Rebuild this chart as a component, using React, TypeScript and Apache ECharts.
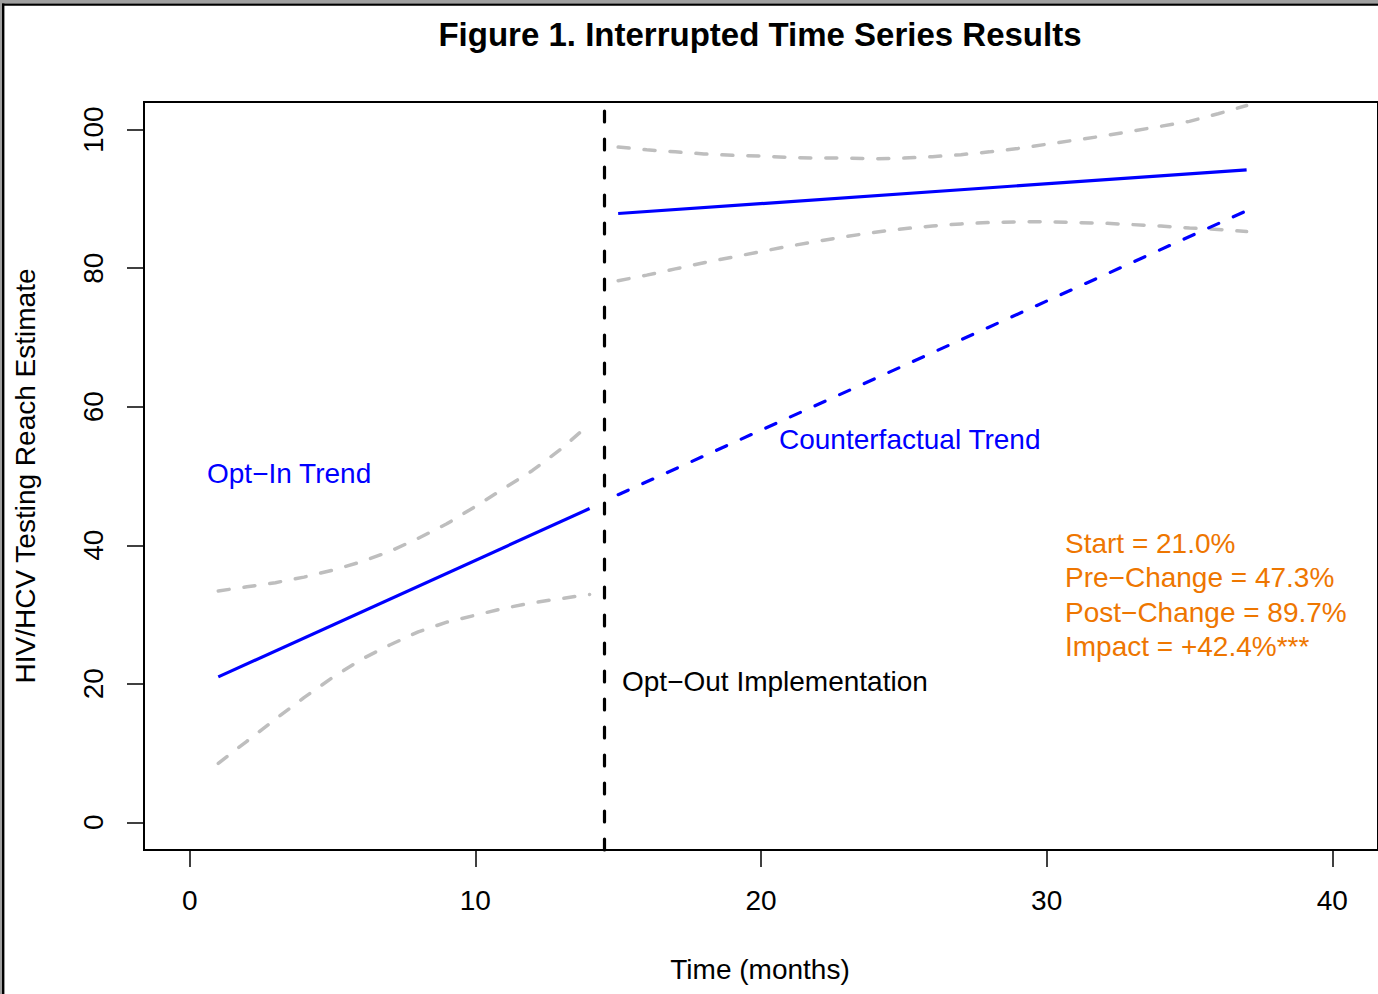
import React, { useEffect, useRef } from "react";
import * as echarts from "echarts";

// ---- data ----
const xTickValues = [0, 10, 20, 30, 40];
const yTickValues = [0, 20, 40, 60, 80, 100];

const preMonths = [1, 2, 3, 4, 5, 6, 7, 8, 9, 10, 11, 12, 13, 14];
const preUpper = [33.4, 34.0, 34.6, 35.4, 36.4, 37.6, 39.1, 41.0, 43.1, 45.6, 48.2, 50.8, 53.9, 57.5];
const preLower = [8.5, 11.7, 14.9, 18.0, 20.9, 23.5, 25.6, 27.5, 28.9, 29.9, 30.9, 31.7, 32.3, 32.9];
const preFitMonths = [1, 14];
const preFit = [21.0, 45.3];

const postMonths = [15, 16, 17, 18, 19, 20, 21, 22, 23, 24, 25, 26, 27, 28, 29, 30, 31, 32, 33, 34, 35, 36, 37];
const postUpper = [97.5, 97.1, 96.8, 96.5, 96.3, 96.2, 96.0, 95.9, 95.9, 95.8, 95.9, 96.1, 96.4, 96.8, 97.3, 97.9, 98.5, 99.1, 99.8, 100.5, 101.2, 102.3, 103.5];
const postLower = [78.2, 79.0, 79.9, 80.8, 81.6, 82.4, 83.2, 83.9, 84.6, 85.2, 85.7, 86.1, 86.4, 86.6, 86.7, 86.7, 86.6, 86.5, 86.3, 86.1, 85.8, 85.6, 85.3];
const postFitMonths = [15, 37];
const postFit = [87.9, 94.2];

const cfMonths = [15, 37];
const counterfactual = [47.3, 88.3];

const interruptionMonth = 14.5;

const titleText = "Figure 1. Interrupted Time Series Results";
const xTitle = "Time (months)";
const yTitle = "HIV/HCV Testing Reach Estimate";
const optInLabel = "Opt\u2212In Trend";
const cfLabel = "Counterfactual Trend";
const optOutLabel = "Opt\u2212Out Implementation";
const statLines = [
  "Start = 21.0%",
  "Pre\u2212Change = 47.3%",
  "Post\u2212Change = 89.7%",
  "Impact = +42.4%***",
];

const FONT = '"Liberation Sans", Arial, Helvetica, sans-serif';
const BLUE = "#0000FF";
const GRAY = "#BEBEBE";
const ORANGE = "#EE7600";

const zip = (xs: number[], ys: number[]) => xs.map((x, i) => [x, ys[i]]);

export default function App() {
  const ref = useRef<HTMLDivElement>(null);

  useEffect(() => {
    if (!ref.current) return;
    const chart = echarts.init(ref.current, undefined, { renderer: "svg" });

    const grayDash = {
      color: GRAY,
      width: 3.5,
      type: [11, 15] as any,
      cap: "round" as const,
    };

    const option: any = {
      animation: false,
      backgroundColor: "#fff",
      grid: {
        left: 144,
        top: 102,
        right: -2,
        bottom: 144,
        show: true,
        borderColor: "#000",
        borderWidth: 2,
        backgroundColor: "transparent",
      },
      xAxis: {
        type: "value",
        min: -1.6,
        max: 41.6,
        axisLine: { show: false, onZero: false },
        splitLine: { show: false },
        axisTick: {
          show: true,
          inside: false,
          length: 17,
          customValues: xTickValues,
          lineStyle: { color: "#000", width: 1.5 },
        },
        axisLabel: {
          customValues: xTickValues,
          margin: 36,
          fontSize: 28,
          fontFamily: FONT,
          color: "#000",
        },
      },
      yAxis: {
        type: "value",
        min: -4,
        max: 104,
        axisLine: { show: false, onZero: false },
        splitLine: { show: false },
        axisTick: {
          show: true,
          inside: false,
          length: 17,
          customValues: yTickValues,
          lineStyle: { color: "#000", width: 1.5 },
        },
        axisLabel: {
          customValues: yTickValues,
          rotate: 90,
          margin: 37,
          fontSize: 28,
          fontFamily: FONT,
          color: "#000",
        },
      },
      series: [
        { type: "line", data: zip(preMonths, preUpper), symbol: "none", lineStyle: grayDash },
        { type: "line", data: zip(preMonths, preLower), symbol: "none", lineStyle: grayDash },
        { type: "line", data: zip(postMonths, postUpper), symbol: "none", lineStyle: grayDash },
        { type: "line", data: zip(postMonths, postLower), symbol: "none", lineStyle: grayDash },
        {
          type: "line",
          data: zip(preFitMonths, preFit),
          symbol: "none",
          lineStyle: { color: BLUE, width: 3.2 },
        },
        {
          type: "line",
          data: zip(postFitMonths, postFit),
          symbol: "none",
          lineStyle: { color: BLUE, width: 3.2 },
        },
        {
          type: "line",
          data: zip(cfMonths, counterfactual),
          symbol: "none",
          lineStyle: { color: BLUE, width: 3.2, type: [11, 16], cap: "round" },
          markLine: {
            silent: true,
            symbol: "none",
            label: { show: false },
            lineStyle: { color: "#000", width: 3.2, type: [11, 17], cap: "round" },
            data: [{ xAxis: interruptionMonth }],
          },
        },
      ],
      graphic: [
        // outer frame
        { type: "rect", shape: { x: 0, y: 0, width: 1378, height: 3.5 }, style: { fill: "#A0A0A0" } },
        { type: "rect", shape: { x: 0, y: 0, width: 2, height: 994 }, style: { fill: "#A0A0A0" } },
        { type: "rect", shape: { x: 2, y: 3.5, width: 1376, height: 2.2 }, style: { fill: "#000" } },
        { type: "rect", shape: { x: 2, y: 3.5, width: 2.4, height: 990.5 }, style: { fill: "#000" } },
        {
          type: "text",
          x: 760,
          y: 34,
          style: {
            text: titleText,
            font: `bold 33px ${FONT}`,
            fill: "#000",
            textAlign: "center",
            textVerticalAlign: "middle",
          },
        },
        {
          type: "text",
          x: 760,
          y: 969,
          style: {
            text: xTitle,
            font: `28px ${FONT}`,
            fill: "#000",
            textAlign: "center",
            textVerticalAlign: "middle",
          },
        },
        {
          type: "text",
          x: 25,
          y: 476,
          rotation: Math.PI / 2,
          style: {
            text: yTitle,
            font: `28px ${FONT}`,
            fill: "#000",
            textAlign: "center",
            textVerticalAlign: "middle",
          },
        },
        {
          type: "text",
          x: 207,
          y: 473,
          style: { text: optInLabel, font: `28px ${FONT}`, fill: BLUE, textAlign: "left", textVerticalAlign: "middle" },
        },
        {
          type: "text",
          x: 779,
          y: 439,
          style: { text: cfLabel, font: `28px ${FONT}`, fill: BLUE, textAlign: "left", textVerticalAlign: "middle" },
        },
        {
          type: "text",
          x: 622,
          y: 681,
          style: { text: optOutLabel, font: `28px ${FONT}`, fill: "#000", textAlign: "left", textVerticalAlign: "middle" },
        },
        ...statLines.map((t, i) => ({
          type: "text",
          x: 1065,
          y: 543 + i * 34.5,
          style: { text: t, font: `28px ${FONT}`, fill: ORANGE, textAlign: "left", textVerticalAlign: "middle" },
        })),
      ],
    };

    chart.setOption(option);
    return () => chart.dispose();
  }, []);

  return (
    <div
      ref={ref}
      style={{ position: "absolute", left: 0, top: 0, width: 1378, height: 994, background: "#fff" }}
    />
  );
}
